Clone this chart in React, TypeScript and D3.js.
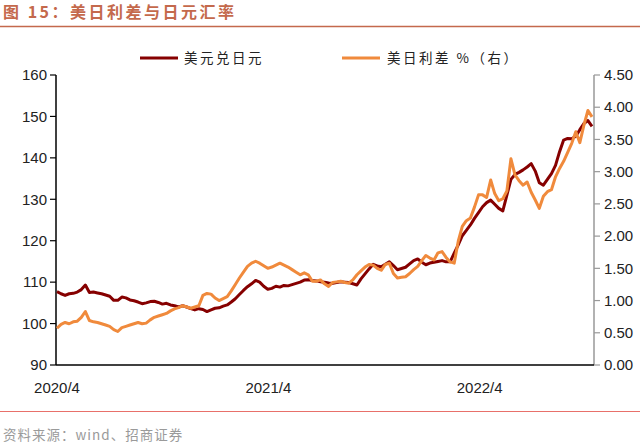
import React from "react";
import * as d3 from "d3";

// ---- Data (weekly samples) ----
const startDate = "2020-04-01";
const usdJpy: number[] = [
  107.7, 107.2, 106.8, 107.2, 107.3, 107.6, 108.2, 109.3, 107.5, 107.6,
  107.4, 107.2, 106.9, 106.6, 105.6, 105.6, 106.4, 106.2, 105.7, 105.5,
  105.2, 104.8, 105.0, 105.3, 105.4, 105.1, 104.7, 104.9, 104.5, 104.3,
  104.0, 104.3, 104.0, 103.6, 103.3, 103.6, 103.4, 102.9, 103.3, 103.7,
  103.8, 104.2, 104.5, 105.2, 106.0, 107.0, 108.0, 108.9, 109.6, 110.4,
  110.0, 109.0, 108.3, 108.5, 109.0, 108.8, 109.2, 109.1, 109.4, 109.7,
  110.0, 110.5, 110.6, 110.4, 110.3, 110.1, 110.0, 109.8, 109.7, 109.9,
  110.1, 110.0, 109.9, 109.6, 109.3, 110.8, 112.0, 113.2, 114.3, 113.9,
  113.7, 114.3, 114.9, 114.0, 113.0, 113.3, 113.6, 114.4, 115.2, 115.6,
  114.8, 114.2, 114.6, 114.8, 115.0, 115.2, 114.9, 114.9, 117.0, 119.0,
  121.2, 122.5, 123.8, 125.4, 126.8, 128.2, 129.2, 129.8, 128.8, 127.8,
  127.2, 131.0, 134.8, 136.0, 136.5, 137.1, 137.8, 138.6, 136.8, 134.0,
  133.4, 134.8, 136.2, 138.2, 141.5, 144.3, 144.7, 144.6, 145.2, 146.8,
  148.3, 149.0, 147.6,
];
const spread: number[] = [
  0.57, 0.63, 0.66, 0.64, 0.67, 0.68, 0.74, 0.83, 0.69, 0.67,
  0.66, 0.64, 0.62, 0.60, 0.55, 0.52, 0.58, 0.60, 0.62, 0.64,
  0.66, 0.64, 0.65, 0.70, 0.74, 0.76, 0.78, 0.80, 0.84, 0.87,
  0.89, 0.92, 0.90, 0.88, 0.90, 0.92, 1.08, 1.11, 1.10, 1.04,
  1.00, 1.03, 1.06, 1.15, 1.25, 1.35, 1.44, 1.53, 1.58, 1.61,
  1.58, 1.54, 1.50, 1.52, 1.55, 1.58, 1.55, 1.52, 1.48, 1.44,
  1.40, 1.43, 1.40, 1.30, 1.30, 1.32, 1.26, 1.22, 1.28, 1.29,
  1.30, 1.28, 1.27, 1.32, 1.40, 1.46, 1.52, 1.56, 1.55, 1.50,
  1.47, 1.56, 1.58, 1.42, 1.35, 1.36, 1.37, 1.42, 1.48, 1.53,
  1.62, 1.70, 1.66, 1.63, 1.74, 1.76, 1.67, 1.60, 1.58, 1.92,
  2.15, 2.24, 2.28, 2.45, 2.64, 2.64, 2.60, 2.87, 2.66, 2.55,
  2.58, 2.70, 3.20, 2.95, 2.86, 2.79, 2.84, 2.68, 2.56, 2.43,
  2.62, 2.69, 2.72, 2.92, 3.05, 3.16, 3.30, 3.44, 3.62, 3.45,
  3.72, 3.95, 3.85,
];
const leftTicks = [90, 100, 110, 120, 130, 140, 150, 160];
const rightTicks = [0, 0.5, 1, 1.5, 2, 2.5, 3, 3.5, 4, 4.5];
const xTickDates = ["2020-04-01", "2021-04-01", "2022-04-01"];
const xTickLabels = ["2020/4", "2021/4", "2022/4"];
const seriesNames = ["美元兑日元", "美日利差 %（右）"];
const title = "图 15：美日利差与日元汇率";
const source = "资料来源：wind、招商证券";

const DARK = "#860000";
const ORANGE = "#F08A3C";
const TITLE_COLOR = "#C4694C";
const NUM_FONT = "'Liberation Sans', Arial, sans-serif";
const CJK_FONT = "'Noto Sans CJK SC', sans-serif";

export default function App() {
  const parse = d3.utcParse("%Y-%m-%d");
  const start = parse(startDate)!;
  const dates = usdJpy.map((_, i) => d3.utcDay.offset(start, i * 7));

  const x = d3.scaleUtc().domain([start, dates[dates.length - 1]]).range([57, 592]);
  const yL = d3.scaleLinear().domain([90, 160]).range([365, 75]);
  const yR = d3.scaleLinear().domain([0, 4.5]).range([365, 75]);

  const lineL = d3.line<number>().x((_, i) => x(dates[i])).y((d) => yL(d));
  const lineR = d3.line<number>().x((_, i) => x(dates[i])).y((d) => yR(d));

  return (
    <svg
      width={640}
      height={445}
      style={{ position: "absolute", left: 0, top: 0, background: "#fff" }}
    >
      {/* Title */}
      <text x={3} y={18} fill={TITLE_COLOR} fontSize={16} fontWeight="bold" fontFamily={CJK_FONT} letterSpacing={2.5}>
        {title}
      </text>
      <line x1={0} x2={640} y1={26.5} y2={26.5} stroke={TITLE_COLOR} strokeWidth={1.5} />

      {/* Legend */}
      <line x1={140} x2={178} y1={58} y2={58} stroke={DARK} strokeWidth={3} />
      <text x={184} y={63} fontSize={13.5} fontFamily={CJK_FONT} fill="#222" letterSpacing={2.5}>
        {seriesNames[0]}
      </text>
      <line x1={342} x2={380} y1={58} y2={58} stroke={ORANGE} strokeWidth={3} />
      <text x={387} y={63} fontSize={13.5} fontFamily={CJK_FONT} fill="#222" letterSpacing={2.5}>
        {seriesNames[1]}
      </text>

      {/* Left axis */}
      <line x1={56} x2={56} y1={75} y2={365} stroke="#000" strokeWidth={1.5} />
      {leftTicks.map((t) => (
        <g key={"l" + t}>
          <line x1={50} x2={56} y1={yL(t)} y2={yL(t)} stroke="#000" strokeWidth={1.2} />
          <text x={47} y={yL(t)} dy="0.35em" textAnchor="end" fontSize={15} fontFamily={NUM_FONT} fill="#222">
            {t}
          </text>
        </g>
      ))}

      {/* Right axis */}
      <line x1={594} x2={594} y1={75} y2={365} stroke="#999" strokeWidth={1.5} />
      {rightTicks.map((t) => (
        <g key={"r" + t}>
          <line x1={594} x2={600} y1={yR(t)} y2={yR(t)} stroke="#999" strokeWidth={1.2} />
          <text x={604} y={yR(t)} dy="0.35em" textAnchor="start" fontSize={15} fontFamily={NUM_FONT} fill="#222">
            {t.toFixed(2)}
          </text>
        </g>
      ))}

      {/* Bottom axis */}
      <line x1={56} x2={594} y1={365} y2={365} stroke="#000" strokeWidth={1.5} />
      {xTickDates.map((d, i) => (
        <text key={d} x={x(parse(d)!)} y={393} textAnchor="middle" fontSize={15} fontFamily={NUM_FONT} fill="#222">
          {xTickLabels[i]}
        </text>
      ))}

      {/* Series */}
      <path d={lineL(usdJpy) || ""} fill="none" stroke={DARK} strokeWidth={3} strokeLinejoin="round" />
      <path d={lineR(spread) || ""} fill="none" stroke={ORANGE} strokeWidth={3} strokeLinejoin="round" />

      {/* Footer */}
      <line x1={0} x2={640} y1={411.5} y2={411.5} stroke="#E8706A" strokeWidth={1.2} />
      <text x={3} y={440} fontSize={13.5} fontFamily={CJK_FONT} fill="#9a9a9a" letterSpacing={1}>
        {source}
      </text>
    </svg>
  );
}
